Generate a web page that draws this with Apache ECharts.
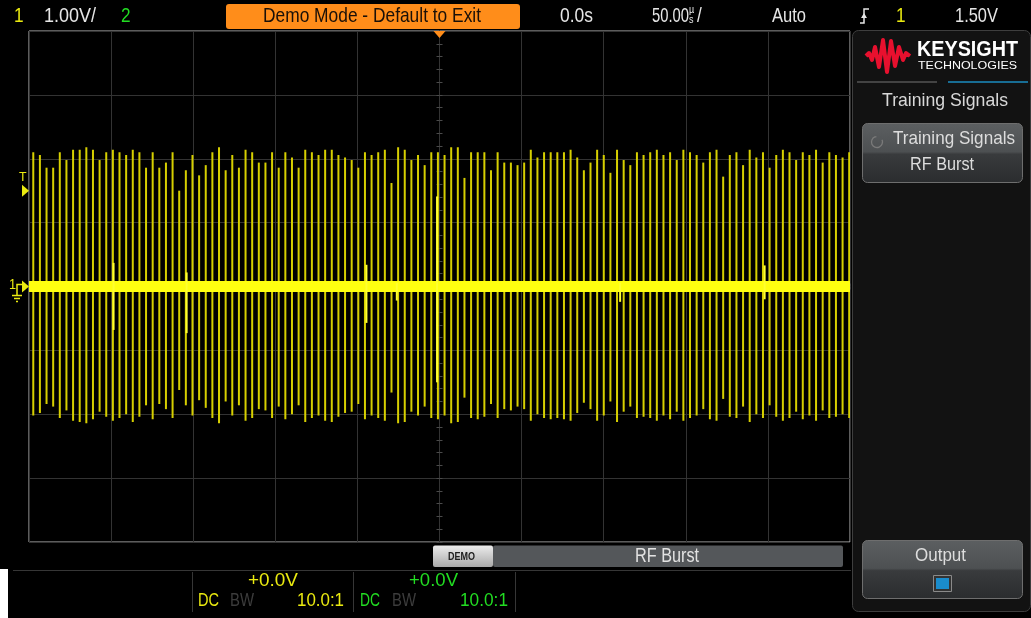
<!DOCTYPE html>
<html><head><meta charset="utf-8">
<script src="https://cdn.jsdelivr.net/npm/echarts/dist/echarts.min.js"></script>
<style>html,body{margin:0;padding:0;background:#000;}#c{width:1031px;height:618px;}</style>
</head><body><div id="c"></div>
<script>
// ---- data ----
const timeRange = [-250, 250];          // µs, 50 µs/div, 10 divisions
const voltRange = [-4, 4];              // V, 1.00 V/div, 8 divisions
const triggerLevel = 1.5;               // V
const burstStart = -247.4;              // µs, first RF burst
const burstPeriod = 4.04;               // µs between bursts
const burstTop = [
  2.10, 2.06, 1.86, 1.86, 2.10, 1.98, 2.14, 2.14, 2.18, 2.14, 1.98, 2.10, 2.14, 2.10, 2.06, 2.14, 2.10, 1.86, 2.10, 1.86, 1.94, 2.10, 1.50, 1.82, 2.06, 1.74, 1.90, 2.10, 2.18, 1.82, 2.06,
  1.86, 2.14, 2.10, 1.94, 1.94, 2.10, 1.86, 2.10, 2.02, 1.86, 2.14, 2.10, 2.06, 2.14, 2.14, 2.06, 2.02, 1.98, 1.86, 2.10, 2.06, 2.10, 2.14, 1.62, 2.18, 2.14, 1.98, 2.06, 1.90, 2.10, 2.10,
  2.06, 2.18, 2.18, 1.70, 2.10, 2.10, 2.10, 1.82, 2.10, 1.94, 1.94, 1.90, 1.94, 2.14, 2.02, 2.10, 2.10, 2.10, 2.10, 2.14, 2.02, 1.82, 1.94, 2.14, 2.06, 1.78, 2.14, 1.98, 1.90, 2.10, 2.06,
  2.10, 2.14, 2.06, 2.10, 1.98, 2.14, 2.10, 2.06, 1.94, 2.10, 2.14, 1.72, 2.06, 2.10, 1.90, 2.14, 2.02, 2.10, 1.86, 2.06, 2.14, 2.10, 1.98, 2.10, 2.06, 2.14, 1.94, 2.10, 2.06, 2.02, 2.10
];
const burstBottom = [
  -2.02, -1.98, -1.84, -1.88, -2.06, -1.94, -2.10, -2.12, -2.14, -2.08, -1.96, -2.04, -2.10, -2.06, -2.00, -2.12, -2.04, -1.86, -2.08, -1.84, -1.92, -2.06, -1.62, -1.86, -2.02, -1.78, -1.90, -2.06, -2.14, -1.80, -2.02,
  -1.86, -2.10, -2.06, -1.92, -1.94, -2.06, -1.88, -2.08, -2.00, -1.86, -2.12, -2.06, -2.02, -2.10, -2.12, -2.04, -1.98, -1.96, -1.84, -2.08, -2.02, -2.06, -2.10, -1.66, -2.14, -2.12, -1.96, -2.02, -1.88, -2.06, -2.08,
  -2.02, -2.14, -2.12, -1.74, -2.06, -2.08, -2.04, -1.84, -2.06, -1.92, -1.94, -1.88, -1.92, -2.10, -2.00, -2.06, -2.08, -2.06, -2.08, -2.10, -1.98, -1.82, -1.92, -2.10, -2.02, -1.80, -2.12, -1.96, -1.88, -2.06, -2.04,
  -2.06, -2.10, -2.02, -2.08, -1.96, -2.10, -2.06, -2.02, -1.92, -2.08, -2.10, -1.76, -2.04, -2.06, -1.88, -2.12, -2.00, -2.06, -1.86, -2.04, -2.10, -2.06, -1.96, -2.08, -2.02, -2.10, -1.94, -2.06, -2.04, -2.00, -2.06
];
const glitchTime   = [-198.5, -154.0, -44.5, -1.5, 198.0, -26.0, 110.0];
const glitchTop    = [0.37, 0.22, 0.34, 1.41, 0.33, 0.06, 0.06];
const glitchBottom = [-0.68, -0.73, -0.57, -1.50, -0.20, -0.22, -0.24];
const baselineTime = [-250, 250];
const baselineVolt = [0, 0];

// ---- chart ----
const FONT = "'Liberation Sans','Arimo',sans-serif";
const YEL = '#eaea10', GRN = '#22dd22', WHT = '#e6e6e6';
const chart = echarts.init(document.getElementById('c'), null, {renderer: 'canvas'});

const burstData = burstTop.map((v, k) => [burstStart + k * burstPeriod, v, burstBottom[k]]);
const glitchData = glitchTime.map((t, i) => [t, glitchTop[i], glitchBottom[i]]);
const baseData = baselineTime.map((t, i) => [t, baselineVolt[i]]);

function vline(color, width) {
  return function (params, api) {
    const p1 = api.coord([api.value(0), api.value(1)]);
    const p2 = api.coord([api.value(0), api.value(2)]);
    return {type: 'line', shape: {x1: p1[0], y1: p1[1], x2: p2[0], y2: p2[1]},
      style: {stroke: color, lineWidth: width}};
  };
}

const tickAxisX = (inside) => ({
  type: 'value', min: timeRange[0], max: timeRange[1], interval: 50,
  axisLine: {show: true, onZero: true, onZeroAxisIndex: 0, lineStyle: {color: '#333', width: 1}},
  axisTick: {show: true, inside: inside, length: 3, lineStyle: {color: '#4a4a4a'}},
  minorTick: {show: true, splitNumber: 5, length: 3, lineStyle: {color: '#4a4a4a'}},
  axisLabel: {show: false}, splitLine: {show: false}
});
const tickAxisY = (inside) => ({
  type: 'value', min: voltRange[0], max: voltRange[1], interval: 1,
  axisLine: {show: true, onZero: true, onZeroAxisIndex: 0, lineStyle: {color: '#333', width: 1}},
  axisTick: {show: true, inside: inside, length: 3, lineStyle: {color: '#4a4a4a'}},
  minorTick: {show: true, splitNumber: 5, length: 3, lineStyle: {color: '#4a4a4a'}},
  axisLabel: {show: false}, splitLine: {show: false}
});

chart.setOption({
  backgroundColor: '#000',
  animation: false,
  grid: {left: 29, top: 31, width: 821, height: 511, show: true, borderColor: '#b8b8b8', borderWidth: 1, backgroundColor: '#000'},
  xAxis: [
    {type: 'value', min: timeRange[0], max: timeRange[1], interval: 50,
      axisLine: {show: false}, axisTick: {show: false}, axisLabel: {show: false},
      splitLine: {show: true, lineStyle: {color: '#333', width: 1}}},
    tickAxisX(false), tickAxisX(true)
  ],
  yAxis: [
    {type: 'value', min: voltRange[0], max: voltRange[1], interval: 1,
      axisLine: {show: false}, axisTick: {show: false}, axisLabel: {show: false},
      splitLine: {show: true, lineStyle: {color: '#333', width: 1}}},
    tickAxisY(false), tickAxisY(true)
  ],
  series: [
    {type: 'custom', name: 'bursts', data: burstData, renderItem: vline('#d6cf00', 2), z: 2, clip: true},
    {type: 'line', name: 'baseline', data: baseData, symbol: 'none', z: 3,
      lineStyle: {color: '#ffff10', width: 11}},
    {type: 'custom', name: 'glitches', data: glitchData, renderItem: vline('#ffff30', 2), z: 4, clip: true}
  ]
});

// marker positions from the chart's own scales
const gndY = chart.convertToPixel({yAxisIndex: 0}, 0);
const trigY = chart.convertToPixel({yAxisIndex: 0}, triggerLevel);
const t0X = chart.convertToPixel({xAxisIndex: 0}, 0);
const LX = 29;

const mctx = document.createElement('canvas').getContext('2d');
// text squeezed/stretched horizontally to the width it has on the scope screen
// fit > 3: target width in px; fit <= 3: plain horizontal scale factor
function txt(text, x, y, fill, size, align, fit, extra) {
  extra = extra || {};
  const fam = extra.fontFamily || FONT, wt = extra.fontWeight || 'normal';
  let sx = 1;
  if (fit && fit > 3) {
    mctx.font = wt + ' ' + size + 'px ' + fam;
    sx = fit / mctx.measureText(text).width;
  } else if (fit) {
    sx = fit;
  }
  return {type: 'text', silent: true, z: 100, x: x, y: y, scaleX: sx, originX: 0, originY: 0,
    style: Object.assign({text: text, x: 0, y: 0, fill: fill, fontSize: size, fontFamily: fam,
      fontWeight: wt, align: align || 'left', verticalAlign: 'middle'}, extra)};
}
function btnGrad(a, b, c, d) {
  return new echarts.graphic.LinearGradient(0, 0, 0, 1, [
    {offset: 0, color: a}, {offset: 0.48, color: b}, {offset: 0.52, color: c}, {offset: 1, color: d}]);
}

const g = [];
// top status bar
g.push(txt('1', 14, 16, YEL, 21, 'left', 0.82));
g.push(txt('1.00V/', 44, 16, WHT, 21, 'left', 52));
g.push(txt('2', 121, 16, GRN, 21, 'left', 0.82));
g.push({type: 'rect', z: 100, shape: {x: 226, y: 4, width: 294, height: 25, r: 3}, style: {fill: '#ff8d1a'}});
g.push(txt('Demo Mode - Default to Exit', 263, 16.5, '#1a1008', 21, 'left', 218));
g.push(txt('0.0s', 560, 16, WHT, 21, 'left', 33));
g.push(txt('50.00', 652, 16, WHT, 21, 'left', 37));
g.push(txt('µ', 689, 10, WHT, 10, 'left', 0.9));
g.push(txt('s', 689, 20, WHT, 10, 'left', 0.9));
g.push(txt('/', 697, 16, WHT, 21, 'left', 0.82));
g.push(txt('Auto', 772, 16, WHT, 21, 'left', 34));
g.push({type: 'polyline', z: 100, shape: {points: [[860, 23], [864, 23], [864, 9], [869, 9]]}, style: {stroke: WHT, lineWidth: 1.5, fill: null}});
g.push({type: 'polygon', z: 100, shape: {points: [[861, 18], [867, 18], [864, 13]]}, style: {fill: WHT}});
g.push(txt('1', 896, 16, YEL, 21, 'left', 0.82));
g.push(txt('1.50V', 955, 16, WHT, 21, 'left', 43));

// trigger-time marker at top of graticule
g.push({type: 'polygon', z: 100, shape: {points: [[t0X - 6, 31], [t0X + 6, 31], [t0X, 38]]}, style: {fill: '#ff8d1a'}});
// trigger level marker
g.push(txt('T', 19, trigY - 13, YEL, 13, 'left', 0.95));
g.push({type: 'polygon', z: 100, shape: {points: [[LX - 7, trigY - 6], [LX, trigY], [LX - 7, trigY + 6]]}, style: {fill: YEL}});
// channel 1 ground marker
g.push(txt('1', 9, gndY - 2, YEL, 15, 'left', 0.85));
g.push({type: 'polyline', z: 100, shape: {points: [[22, gndY - 2], [17, gndY - 2], [17, gndY + 9]]}, style: {stroke: YEL, lineWidth: 1.5, fill: null}});
g.push({type: 'line', z: 100, shape: {x1: 12, y1: gndY + 9, x2: 22, y2: gndY + 9}, style: {stroke: YEL, lineWidth: 1.5}});
g.push({type: 'line', z: 100, shape: {x1: 14, y1: gndY + 12, x2: 20, y2: gndY + 12}, style: {stroke: YEL, lineWidth: 1.5}});
g.push({type: 'line', z: 100, shape: {x1: 16, y1: gndY + 15, x2: 18, y2: gndY + 15}, style: {stroke: YEL, lineWidth: 1.5}});
g.push({type: 'polygon', z: 100, shape: {points: [[LX - 7, gndY - 6], [LX, gndY], [LX - 7, gndY + 6]]}, style: {fill: YEL}});

// right side panel
g.push({type: 'rect', z: 90, shape: {x: 852.5, y: 30.5, width: 178, height: 581, r: 6}, style: {fill: '#121212', stroke: '#3e3e3e', lineWidth: 1}});
g.push({type: 'polyline', z: 100, shape: {points: [[866, 56], [869, 53], [872, 60], [875, 47], [879, 67], [883, 40], [887, 72], [891, 41], [895, 66], [899, 47], [903, 60], [906, 53], [910, 56]]},
  style: {stroke: '#e8102e', lineWidth: 4, fill: null, lineJoin: 'round'}});
g.push(txt('KEYSIGHT', 917, 50, '#ffffff', 22, 'left', 101, {fontWeight: 'bold'}));
g.push(txt('TECHNOLOGIES', 918, 66, '#ffffff', 10.5, 'left', 99));
g.push({type: 'line', z: 100, shape: {x1: 857, y1: 82, x2: 937, y2: 82}, style: {stroke: '#555', lineWidth: 1.5}});
g.push({type: 'line', z: 100, shape: {x1: 948, y1: 82, x2: 1028, y2: 82}, style: {stroke: '#1b8cc0', lineWidth: 1.5}});
g.push(txt('Training Signals', 882, 101, '#d8d8d8', 19, 'left', 126));
g.push({type: 'rect', z: 100, shape: {x: 862.5, y: 123.5, width: 160, height: 59, r: 5},
  style: {fill: btnGrad('#5c5f61', '#4d5052', '#393b3d', '#2a2c2e'), stroke: '#6e6e6e', lineWidth: 1}});
g.push({type: 'arc', z: 101, shape: {cx: 877, cy: 142, r: 5.5, startAngle: -0.4, endAngle: 4.6}, style: {stroke: '#7a7a7a', lineWidth: 1.3, fill: null}});
g.push(txt('Training Signals', 893, 139, '#dddddd', 19, 'left', 122));
g.push(txt('RF Burst', 910, 165, '#dddddd', 19, 'left', 64));
g.push({type: 'rect', z: 100, shape: {x: 862.5, y: 540.5, width: 160, height: 58, r: 5},
  style: {fill: btnGrad('#5c5f61', '#4d5052', '#393b3d', '#2a2c2e'), stroke: '#6e6e6e', lineWidth: 1}});
g.push(txt('Output', 915, 556, '#dddddd', 19, 'left', 51));
g.push({type: 'rect', z: 101, shape: {x: 933.5, y: 575.5, width: 18, height: 16}, style: {fill: '#333', stroke: '#8a8a8a', lineWidth: 1}});
g.push({type: 'rect', z: 102, shape: {x: 936, y: 578, width: 13, height: 11}, style: {fill: '#1a8ccc'}});

// bottom info area
g.push({type: 'rect', z: 100, shape: {x: 433, y: 545.5, width: 60, height: 21.5, r: 2},
  style: {fill: new echarts.graphic.LinearGradient(0, 0, 0, 1, [{offset: 0, color: '#ececec'}, {offset: 1, color: '#a9a9a9'}])}});
g.push(txt('DEMO', 448, 557, '#202020', 11, 'left', 27, {fontWeight: 'bold'}));
g.push({type: 'rect', z: 100, shape: {x: 493, y: 545.5, width: 350, height: 21.5, r: 2}, style: {fill: '#54575a'}});
g.push(txt('RF Burst', 635, 556, '#e2e2e2', 20, 'left', 64));
g.push({type: 'line', z: 100, shape: {x1: 13, y1: 570.5, x2: 851, y2: 570.5}, style: {stroke: '#363636', lineWidth: 1}});
[192.5, 353.5, 515.5].forEach(x => g.push({type: 'line', z: 100, shape: {x1: x, y1: 572, x2: x, y2: 612}, style: {stroke: '#363636', lineWidth: 1}}));
g.push(txt('+0.0V', 248, 581, YEL, 18, 'left', 50));
g.push(txt('DC', 198, 601, YEL, 18, 'left', 21));
g.push(txt('BW', 230, 601, '#3c3c3c', 18, 'left', 24));
g.push(txt('10.0:1', 297, 601, YEL, 18, 'left', 47));
g.push(txt('+0.0V', 409, 581, GRN, 18, 'left', 49));
g.push(txt('DC', 360, 601, GRN, 18, 'left', 20));
g.push(txt('BW', 392, 601, '#3c3c3c', 18, 'left', 24));
g.push(txt('10.0:1', 460, 601, GRN, 18, 'left', 48));
// white margin at lower-left of the capture
g.push({type: 'rect', z: 100, shape: {x: 0, y: 569, width: 8, height: 49}, style: {fill: '#ffffff'}});

chart.setOption({graphic: {elements: g}});
</script>
</body></html>
